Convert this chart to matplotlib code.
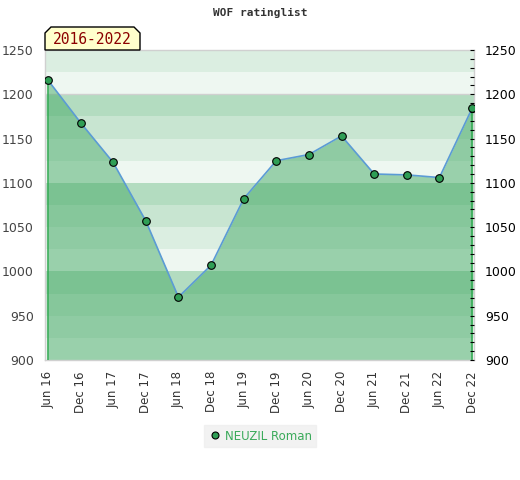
import matplotlib
matplotlib.use("Agg")
import matplotlib.pyplot as plt
from matplotlib.patches import Polygon
from matplotlib.lines import Line2D
import numpy as np

# rating history, half-yearly lists
months = ["Jun 16", "Dec 16", "Jun 17", "Dec 17", "Jun 18", "Dec 18", "Jun 19",
          "Dec 19", "Jun 20", "Dec 20", "Jun 21", "Dec 21", "Jun 22", "Dec 22"]
ratings = [1216, 1168, 1123, 1057, 971, 1007, 1082,
           1125, 1132, 1153, 1110, 1109, 1106, 1184]
player = "NEUZIL Roman"
period = "2016-2022"
title = "WOF ratinglist"

ymin, ymax = 900, 1250
band_cols = ["#eef7f1", "#dbeee1", "#c8e5d1", "#b3dcc0"]

fig = plt.figure(figsize=(5.2, 4.8), dpi=100)
ax = fig.add_axes([45/520, 120/480, 429/520, 310/480])

x = np.arange(len(months))

# horizontal bands every 25
for lo in range(ymin, ymax, 25):
    q = ((lo % 100) // 25)
    ax.axhspan(lo, lo + 25, color=band_cols[q], lw=0, zorder=0)
ax.axhline(1200, color="#d0d0d0", lw=1, zorder=1)

ax.fill_between(x, ratings, ymin, color=(69/255, 170/255, 102/255), alpha=0.5,
                lw=0, zorder=2)
ax.vlines([x[0], x[-1]], ymin, [ratings[0], ratings[-1]], color="#2ea84f",
          lw=1.1, zorder=3)
ax.plot(x, ratings, color="#5b9bd5", lw=1.2, zorder=4)
ax.plot(x, ratings, "o", ms=5.5, mfc="#2f9e55", mec="black", mew=0.8, zorder=5)

ax.set_xlim(-0.09, len(months) - 1 + 0.06)
ax.set_ylim(ymin, ymax)
ax.set_xticks(x)
ax.set_xticklabels(months, rotation=90, fontsize=8.5, color="#333333")
ax.tick_params(axis="x", length=0, pad=8)
ax.set_yticks(range(900, 1251, 50))
ax.tick_params(axis="y", length=0, labelsize=9, labelcolor="#444444", pad=8)
for s in ax.spines.values():
    s.set_color("#d0d0d0")
    s.set_linewidth(1)

ax2 = ax.twinx()
ax2.set_ylim(ymin, ymax)
ax2.set_yticks(range(900, 1251, 50))
ax2.set_yticks(range(900, 1251, 10), minor=True)
ax2.tick_params(axis="y", which="both", direction="in", length=3, width=0.8,
                labelsize=9, labelcolor="black", pad=8)
for s in ax2.spines.values():
    s.set_visible(False)

fig.text(0.5, 1 - 13/480, title, ha="center", va="center",
         family="DejaVu Sans Mono", fontweight="bold", fontsize=8, color="#333333")

# period label box with chamfered top corners
bx0, bx1, by0, by1, c = 45, 140, 50, 27, 6
pts = [(bx0, by0), (bx0, by1 + c), (bx0 + c, by1), (bx1 - c, by1),
       (bx1, by1 + c), (bx1, by0)]
pts = [(px / 520, 1 - py / 480) for px, py in pts]
fig.patches.append(Polygon(pts, closed=True, transform=fig.transFigure,
                           facecolor="#ffffcc", edgecolor="black", lw=1, zorder=10))
fig.text((bx0 + bx1) / 2 / 520, 1 - 39.5 / 480, period, ha="center", va="center",
         family="DejaVu Sans Mono", fontsize=10.5, color="#8b0000", zorder=11)

handle = Line2D([], [], ls="none", marker="o", ms=5, mfc="#2f9e55",
                mec="black", mew=0.8)
leg = fig.legend([handle], [player], loc="center", bbox_to_anchor=(260/520, 1 - 436/480),
                 frameon=True, fancybox=False, fontsize=8.5, handletextpad=0.3,
                 handlelength=1.1, borderpad=0.35)
leg.get_frame().set_facecolor("#efefef")
leg.get_frame().set_edgecolor("#efefef")
for t in leg.get_texts():
    t.set_color("#3aaa5a")

fig.savefig("out.png", dpi=100)
